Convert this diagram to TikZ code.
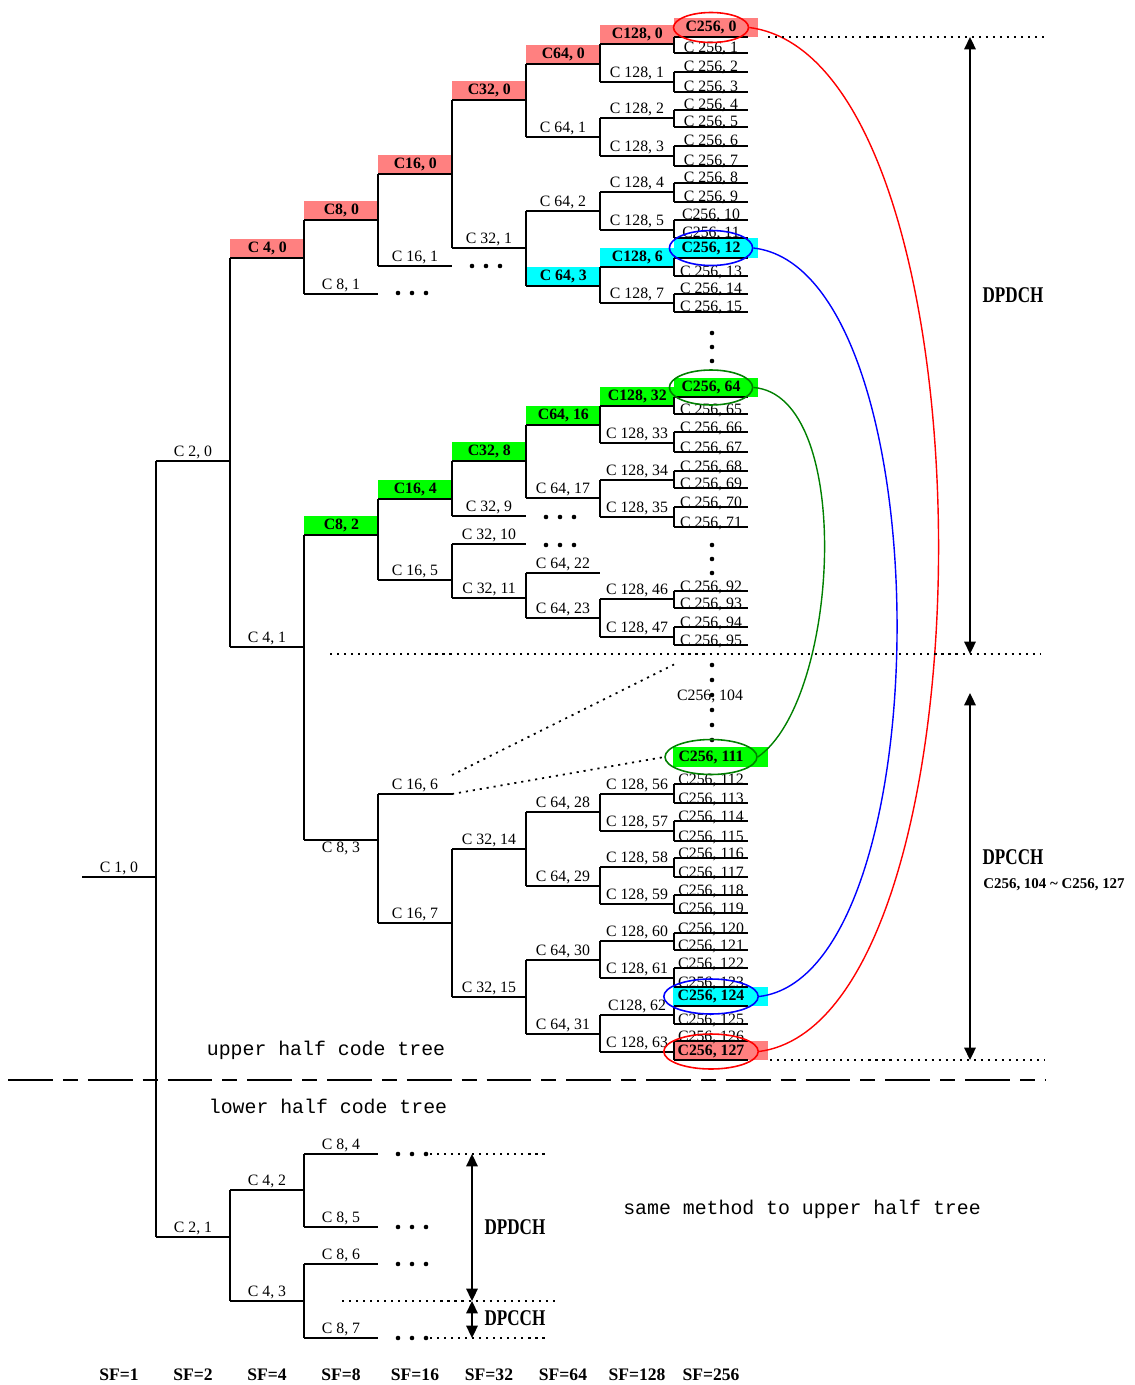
\documentclass[tikz,border=0pt]{standalone}
\usepackage{fontspec}
\setmainfont{Liberation Serif}
\newfontfamily\monofont{Liberation Mono}
\newfontfamily\narrowfont{Liberation Serif}[FakeStretch=0.76]
\usetikzlibrary{arrows.meta, shapes.geometric}

\definecolor{pinkc}{RGB}{255,128,128}
\definecolor{cyanc}{RGB}{0,255,255}
\definecolor{greenc}{RGB}{0,255,0}
\definecolor{darkgreen}{RGB}{0,128,0}

\tikzset{
  tree/.style={line width=1pt},
  lbl/.style={font=\fontsize{9}{10}\selectfont, inner sep=0pt, anchor=base, yshift=2.3pt},
  leaflbl/.style={font=\fontsize{9}{10}\selectfont, inner sep=0pt, anchor=base},
  hilite/.style={font=\fontsize{9}{10}\selectfont\bfseries, inner sep=0pt,
    minimum width=1.48cm, minimum height=0.38cm, anchor=south west},
  ring/.style={ellipse, line width=0.9pt, minimum width=1.5cm, minimum height=0.7cm,
    inner sep=0pt, font=\fontsize{9}{10}\selectfont\bfseries},
  link/.style={line width=0.8pt},
  guide/.style={line width=1pt, dash pattern=on 1.2pt off 2.8pt},
  span/.style={line width=1pt, >={Triangle[length=7pt,width=6.5pt]}, <->},
  chan/.style={font=\narrowfont\bfseries\fontsize{12.8}{14}\selectfont},
  half/.style={font=\monofont\fontsize{11.3}{13}\selectfont},
  sflbl/.style={font=\bfseries\fontsize{10}{12}\selectfont},
}

% one code of the tree: name, x, y, label
\newcommand{\code}[4]{%
  \draw[tree] (#2,#3) coordinate (#1) -- node[lbl] (#1-t) {#4} ++(74,0) coordinate (#1-r);}
% highlighted code: name, x, y, label, colour
\newcommand{\hcode}[5]{%
  \node[hilite, fill=#5] (#1-t) at (#2,#3) {#4};
  \draw[tree] (#2,#3) coordinate (#1) -- ++(74,0) coordinate (#1-r);}

\begin{document}
\begin{tikzpicture}[x=0.02cm, y=-0.02cm]
  \useasboundingbox (0,0) rectangle (1135,1385);

  % boxes behind the marked SF=256 codes
  \fill[pinkc]  (674,18)   rectangle (758,37);
  \fill[cyanc]  (674,238)  rectangle (758,258);
  \fill[greenc] (674,378)  rectangle (758,397);
  \fill[greenc] (673,747)  rectangle (768,767);
  \fill[cyanc]  (673,987)  rectangle (768,1006);
  \fill[pinkc]  (673,1041) rectangle (768,1060);

  % SF = 1 ... 32
  \code{c1-0}{82}{877}{C 1, 0}
  \code{c2-0}{156}{461}{C 2, 0}
  \code{c2-1}{156}{1237}{C 2, 1}
  \hcode{c4-0}{230}{258}{C 4, 0}{pinkc}
  \code{c4-1}{230}{647}{C 4, 1}
  \code{c4-2}{230}{1190}{C 4, 2}
  \code{c4-3}{230}{1301}{C 4, 3}
  \hcode{c8-0}{304}{220}{C8, 0}{pinkc}
  \code{c8-1}{304}{294}{C 8, 1}
  \hcode{c8-2}{304}{535}{C8, 2}{greenc}
  \code{c8-3}{304}{840}{}
  \node[font=\fontsize{9}{10}\selectfont, anchor=north, inner sep=1pt] (c8-3-b) at (341,840) {C 8, 3};
  \foreach \n/\y in {4/1154, 5/1227, 6/1264, 7/1338}
    {\code{c8-\n}{304}{\y}{C 8, \n}}
  \hcode{c16-0}{378}{174}{C16, 0}{pinkc}
  \hcode{c16-4}{378}{499}{C16, 4}{greenc}
  \foreach \n/\y in {1/266, 5/580, 6/794, 7/923}
    {\code{c16-\n}{378}{\y}{C 16, \n}}
  \hcode{c32-0}{452}{100}{C32, 0}{pinkc}
  \hcode{c32-8}{452}{461}{C32, 8}{greenc}
  \foreach \n/\y in {1/248, 9/516, 10/544, 11/598, 14/849, 15/997}
    {\code{c32-\n}{452}{\y}{C 32, \n}}

  % SF = 64 and 128
  \hcode{c64-0}{526}{64}{C64, 0}{pinkc}
  \hcode{c64-3}{526}{286}{C 64, 3}{cyanc}
  \hcode{c64-16}{526}{425}{C64, 16}{greenc}
  \foreach \n/\y in {1/137, 2/211, 17/498, 22/573, 23/618, 28/812, 29/886, 30/960, 31/1034}
    {\code{c64-\n}{526}{\y}{C 64, \n}}
  \hcode{c128-0}{600}{44}{C128, 0}{pinkc}
  \hcode{c128-6}{600}{267}{C128, 6}{cyanc}
  \hcode{c128-32}{600}{406}{C128, 32}{greenc}
  \code{c128-62}{600}{1015}{C128, 62}
  \foreach \n/\y in {1/82, 2/118, 3/156, 4/192, 5/230, 7/303, 33/443, 34/480, 35/517,
      46/599, 47/637, 56/794, 57/831, 58/867, 59/904, 60/941, 61/978, 63/1052}
    {\code{c128-\n}{600}{\y}{C 128, \n}}

  % SF = 256
  \foreach \k/\y in {1/53, 2/72, 3/92, 4/110, 5/127, 6/146, 7/166, 8/183, 9/202,
      13/276, 14/294, 15/312, 65/414, 66/432, 67/452, 68/471, 69/488, 70/507, 71/527,
      92/591, 93/608, 94/627, 95/645}
    \draw[tree] (674,\y) coordinate (l\k) -- node[leaflbl] (l\k-t) {C 256, \k} ++(74,0);
  \foreach \k/\y in {10/220, 11/238, 112/784, 113/803, 114/821, 115/841, 116/858,
      117/877, 118/895, 119/913, 120/933, 121/950, 122/968, 123/987, 125/1024, 126/1041}
    \draw[tree] (674,\y) coordinate (l\k) -- node[leaflbl] (l\k-t) {C256, \k} ++(74,0);
  \foreach \k/\y in {0/37, 12/258, 64/397, 124/1006, 127/1060}
    \draw[tree] (674,\y) coordinate (l\k) -- ++(74,0);
  \node[leaflbl, anchor=center] (l104-t) at (710,696) {C256, 104};

  % branching lines
  \foreach \a/\b in {c2-0/c2-1, c4-0/c4-1, c4-2/c4-3, c8-0/c8-1, c8-2/c8-3, c8-4/c8-5,
      c8-6/c8-7, c16-0/c16-1, c16-4/c16-5, c16-6/c16-7, c32-0/c32-1, c32-8/c32-9,
      c32-10/c32-11, c32-14/c32-15, c64-0/c64-1, c64-2/c64-3, c64-16/c64-17,
      c64-22/c64-23, c64-28/c64-29, c64-30/c64-31, c128-0/c128-1, c128-2/c128-3,
      c128-4/c128-5, c128-6/c128-7, c128-32/c128-33, c128-34/c128-35, c128-46/c128-47,
      c128-56/c128-57, c128-58/c128-59, c128-60/c128-61, c128-62/c128-63}
    \draw[tree] (\a) -- (\b);
  \foreach \a/\b in {0/1, 2/3, 4/5, 6/7, 8/9, 10/11, 12/13, 14/15, 64/65, 66/67, 68/69,
      70/71, 92/93, 94/95, 112/113, 114/115, 116/117, 118/119, 120/121, 122/123,
      124/125, 126/127}
    \draw[tree] (l\a) -- (l\b);

  % omitted codes
  \foreach \x/\y in {398/293, 472/266, 546/517, 546/545, 398/1154, 398/1227, 398/1264, 398/1338}
    \foreach \d in {0, 14, 28}
      \fill ({\x+\d},\y) circle (1.3pt);
  \foreach \y in {333, 347, 361, 545, 559, 573, 665, 680, 695, 710, 725, 740}
    \fill (712,\y) circle (1.3pt);

  % marked codes
  \node[ring, draw=red, minimum height=0.6cm] (e0) at (711,27.5) {C256, 0};
  \node[ring, draw=blue] (e12) at (711,248) {C256, 12};
  \node[ring, draw=darkgreen] (e64) at (711,387.5) {C256, 64};
  \node[ring, draw=darkgreen] (e111) at (711,757) {C256, 111};
  \node[ring, draw=blue] (e124) at (711,996.5) {C256, 124};
  \node[ring, draw=red] (e127) at (711,1051.5) {C256, 127};
  \draw[link, red] (e0.east) .. controls (1000,60) and (1000,1020) .. (e127.east);
  \draw[link, blue] (e12.east) .. controls (944,270) and (944,975) .. (e124.east);
  \draw[link, darkgreen] (e64.east) .. controls (855,395) and (840,700) .. (e111.east);

  % C16,6 expands to C256,104 ... C256,111
  \coordinate (c16-6-u) at (452,775);
  \coordinate (gap) at (677,663);
  \draw[guide] (c16-6-u) -- (gap);
  \draw[guide] (c16-6-r) -- (e111.west);

  % channel ranges, upper half
  \coordinate (top-l) at (768,37);   \coordinate (top-r) at (1045,37);
  \coordinate (mid-l) at (330,654);  \coordinate (mid-r) at (1040,654);
  \coordinate (bot-l) at (770,1060); \coordinate (bot-r) at (1045,1060);
  \draw[guide] (top-l) -- (top-r);
  \draw[guide] (mid-l) -- (mid-r);
  \draw[guide] (bot-l) -- (bot-r);
  \coordinate (a1) at (970,37);  \coordinate (a2) at (970,654);
  \coordinate (a3) at (970,693); \coordinate (a4) at (970,1060);
  \draw[span] (a1) -- (a2);
  \draw[span] (a3) -- (a4);
  \node[chan] (dpdch) at (1013,295) {DPDCH};
  \node[chan] (dpcch) at (1013,857) {DPCCH};
  \node[font=\bfseries\fontsize{8.5}{10}\selectfont] (range) at (1054,885)
    {C256, 104 \textasciitilde{} C256, 127};

  % upper / lower half
  \draw[line width=1.3pt, dash pattern=on 25.5pt off 5.7pt on 8.5pt off 5.7pt]
    (8,1080) coordinate (sep-l) -- (1045,1080) coordinate (sep-r);
  \node[half] (upper) at (326,1050) {upper half code tree};
  \node[half] (lower) at (328,1106) {lower half code tree};
  \node[half] (same) at (802,1209) {same method to upper half tree};

  % channel ranges, lower half
  \coordinate (lt-l) at (430,1154); \coordinate (lt-r) at (545,1154);
  \coordinate (lm-l) at (342,1301); \coordinate (lm-r) at (558,1301);
  \coordinate (lb-l) at (430,1338); \coordinate (lb-r) at (545,1338);
  \draw[guide] (lt-l) -- (lt-r);
  \draw[guide] (lm-l) -- (lm-r);
  \draw[guide] (lb-l) -- (lb-r);
  \coordinate (b1) at (472,1154); \coordinate (b2) at (472,1301); \coordinate (b3) at (472,1338);
  \draw[span] (b1) -- (b2);
  \draw[span] (b2) -- (b3);
  \node[chan] (dpdch-l) at (515,1227) {DPDCH};
  \node[chan] (dpcch-l) at (515,1318) {DPCCH};

  % spreading factors
  \foreach \s [count=\i from 0] in {1, 2, 4, 8, 16, 32, 64, 128, 256}
    \node[sflbl] (sf\s) at ({119+74*\i},1375) {SF=\s};
\end{tikzpicture}
\end{document}
